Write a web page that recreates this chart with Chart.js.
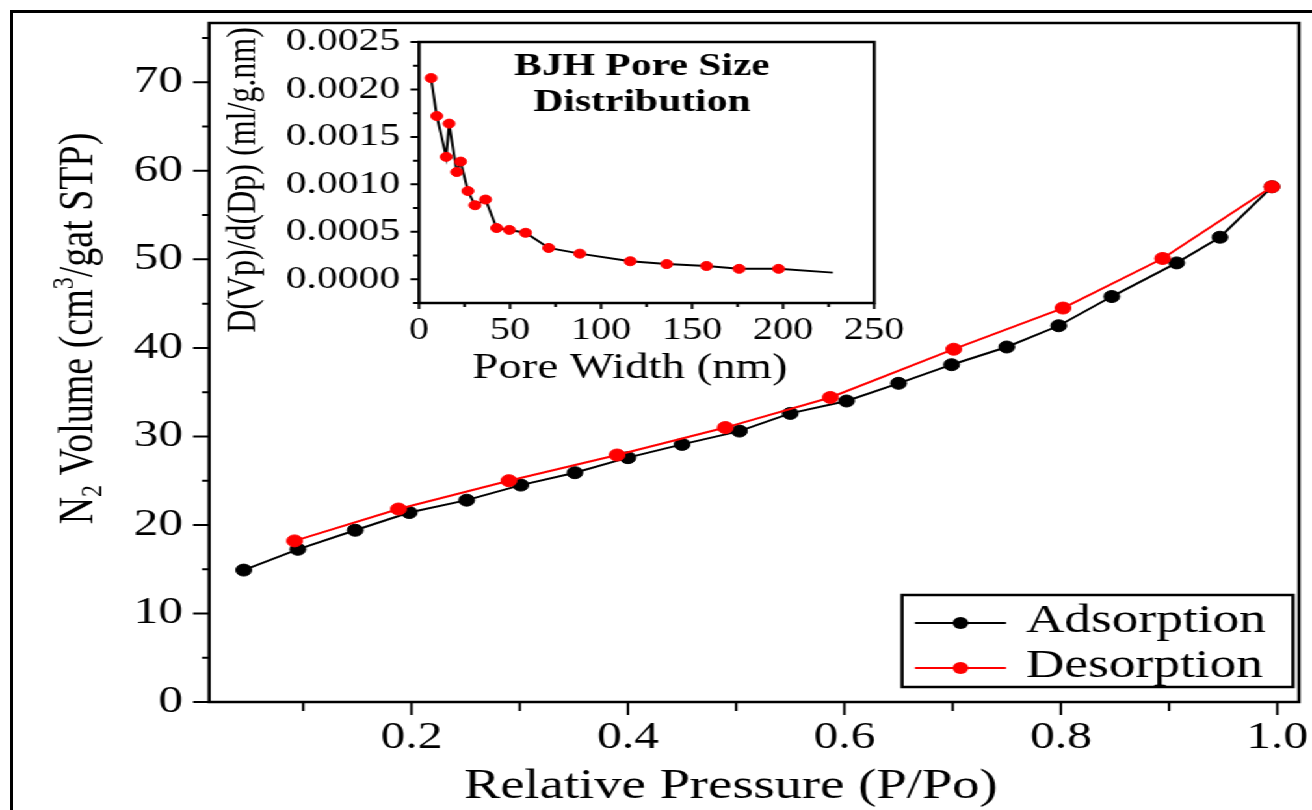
<!DOCTYPE html>
<html>
<head>
<meta charset="utf-8">
<title>N2 isotherm with BJH inset</title>
<script src="https://cdn.jsdelivr.net/npm/chart.js@4.4.1/dist/chart.umd.min.js"></script>
<style>
  html, body { margin: 0; padding: 0; background: #fff; width: 1312px; height: 810px; overflow: hidden; }
  #frame { position: absolute; left: 10px; top: 10px; width: 1400px; height: 900px;
           border-left: 3px solid #000; border-top: 3px solid #000; }
  /* the original figure is stretched sideways, so the whole drawing is too */
  #stage { position: absolute; left: 0; top: 0; width: 1009px; height: 810px;
           transform: scaleX(1.3003); transform-origin: 0 0; }
  #main { position: absolute; left: 0; top: 0; }
  #inset { position: absolute; left: 162px; top: 24px; }
</style>
</head>
<body>
<div id="frame"></div>
<div id="stage">
  <canvas id="main" width="1009" height="810"></canvas>
  <canvas id="inset" width="545" height="370"></canvas>
</div>
<script>
const FONT = '"Liberation Serif", "Times New Roman", Times, serif';

// N2 isotherm (main plot)
const adsorptionP = [0.045, 0.095, 0.148, 0.198, 0.251, 0.301, 0.351, 0.400, 0.450, 0.503,
                     0.550, 0.602, 0.650, 0.699, 0.750, 0.798, 0.847, 0.907, 0.947, 0.995];
const adsorptionV = [14.9, 17.25, 19.4, 21.4, 22.8, 24.5, 25.9, 27.6, 29.1, 30.6,
                     32.6, 34.0, 36.0, 38.1, 40.1, 42.5, 45.8, 49.6, 52.5, 58.2];
const desorptionP = [0.995, 0.894, 0.802, 0.701, 0.587, 0.490, 0.390, 0.290, 0.188, 0.092];
const desorptionV = [58.2, 50.1, 44.5, 39.85, 34.4, 31.0, 27.9, 25.0, 21.8, 18.2];

// BJH pore size distribution (inset)
const poreWidth = [6.6, 9.7, 14.9, 16.5, 20.7, 22.8, 26.8, 30.7, 36.5, 42.6,
                   49.6, 58.5, 71.2, 88.3, 116.0, 136.0, 157.9, 175.8, 197.5, 227.3];
const poreDist = [0.00212, 0.00172, 0.00129, 0.00164, 0.00113, 0.00124, 0.00093, 0.00078, 0.00084, 0.00054,
                  0.00052, 0.00049, 0.00033, 0.00027, 0.00019, 0.00016, 0.00014, 0.00011, 0.00011, 0.00007];

// texts
const seriesNames = ['Adsorption', 'Desorption'];
const xTitle = 'Relative Pressure (P/Po)';
const yTitleParts = [{ t: 'N' }, { t: '2', sub: true }, { t: ' Volume (cm' }, { t: '3', sup: true }, { t: '/gat STP)' }];
const insetTitle = ['BJH Pore Size', 'Distribution'];
const insetXTitle = 'Pore Width (nm)';
const insetYTitle = 'D(Vp)/d(Dp) (ml/g.nm)';

function onStep(v, step) {
  const r = v / step;
  return Math.abs(r - Math.round(r)) < 1e-6;
}
function toPoints(xs, ys) {
  return xs.map((x, i) => ({ x: x, y: ys[i] }));
}

// outward tick marks (long for labelled ticks, short for the rest) and the box frame
function axesPlugin(len) {
  return {
    id: 'axesFrame',
    afterDraw(chart) {
      const ctx = chart.ctx;
      const a = chart.chartArea;
      const x = chart.scales.x, y = chart.scales.y;
      ctx.save();
      ctx.strokeStyle = '#000';
      ctx.lineWidth = 2;
      ctx.beginPath();
      x.ticks.forEach(t => {
        const px = x.getPixelForValue(t.value);
        ctx.moveTo(px, a.bottom);
        ctx.lineTo(px, a.bottom + (t.label ? len.xMajor : len.xMinor));
      });
      y.ticks.forEach(t => {
        const py = y.getPixelForValue(t.value);
        ctx.moveTo(a.left, py);
        ctx.lineTo(a.left - (t.label ? len.yMajor : len.yMinor), py);
      });
      ctx.stroke();
      ctx.lineWidth = len.frame;
      ctx.strokeRect(a.left, a.top, a.right - a.left, a.bottom - a.top);
      ctx.restore();
    }
  };
}

// free text (axis titles etc), with simple sub/superscript parts
function textPlugin(items) {
  return {
    id: 'freeText',
    afterDraw(chart) {
      const ctx = chart.ctx;
      items.forEach(it => {
        const parts = it.parts || [{ t: it.text }];
        const fontFor = p => (it.bold ? 'bold ' : '') +
          (p.sub || p.sup ? Math.round(it.size * 0.62) : it.size) + 'px ' + FONT;
        ctx.save();
        ctx.translate(it.x, it.y);
        if (it.rotate) ctx.rotate(it.rotate);
        ctx.fillStyle = '#000';
        ctx.textAlign = 'left';
        ctx.textBaseline = 'alphabetic';
        let total = 0;
        parts.forEach(p => { ctx.font = fontFor(p); total += ctx.measureText(p.t).width; });
        let cx = -total / 2;
        parts.forEach(p => {
          ctx.font = fontFor(p);
          const dy = p.sub ? it.size * 0.2 : (p.sup ? -it.size * 0.38 : 0);
          ctx.fillText(p.t, cx, dy);
          cx += ctx.measureText(p.t).width;
        });
        ctx.restore();
      });
    }
  };
}

// boxed legend with line + marker samples
function legendPlugin(box) {
  return {
    id: 'boxLegend',
    afterDraw(chart) {
      const ctx = chart.ctx;
      ctx.save();
      ctx.fillStyle = '#fff';
      ctx.fillRect(box.left, box.top, box.right - box.left, box.bottom - box.top);
      ctx.strokeStyle = '#000';
      ctx.lineWidth = 2.5;
      ctx.strokeRect(box.left, box.top, box.right - box.left, box.bottom - box.top);
      chart.data.datasets.forEach((ds, i) => {
        const yy = box.rows[i];
        ctx.strokeStyle = ds.borderColor;
        ctx.lineWidth = 2;
        ctx.beginPath();
        ctx.moveTo(box.lineFrom, yy);
        ctx.lineTo(box.lineTo, yy);
        ctx.stroke();
        ctx.fillStyle = ds.borderColor;
        ctx.beginPath();
        ctx.arc((box.lineFrom + box.lineTo) / 2, yy, box.r, 0, Math.PI * 2);
        ctx.fill();
        ctx.fillStyle = '#000';
        ctx.font = box.size + 'px ' + FONT;
        ctx.textAlign = 'left';
        ctx.textBaseline = 'alphabetic';
        ctx.fillText(ds.label, box.textX, yy + box.dy);
      });
      ctx.restore();
    }
  };
}

function fixScale(w, h) {
  return s => {
    if (w != null) s.width = w;
    if (h != null) s.height = h;
    s.paddingTop = 0; s.paddingBottom = 0; s.paddingLeft = 0; s.paddingRight = 0;
  };
}

// main chart
new Chart(document.getElementById('main'), {
  type: 'scatter',
  data: {
    datasets: [
      {
        label: seriesNames[0],
        data: toPoints(adsorptionP, adsorptionV),
        showLine: true,
        borderColor: '#000000',
        backgroundColor: '#000000',
        borderWidth: 2,
        pointRadius: 6,
        pointBorderWidth: 1,
        pointHoverRadius: 6,
        order: 2
      },
      {
        label: seriesNames[1],
        data: toPoints(desorptionP, desorptionV),
        showLine: true,
        borderColor: '#ff0000',
        backgroundColor: '#ff0000',
        borderWidth: 2,
        pointRadius: 6,
        pointBorderWidth: 1,
        pointHoverRadius: 6,
        order: 1
      }
    ]
  },
  options: {
    responsive: false,
    animation: false,
    layout: { padding: { left: 0, top: 23, right: 10, bottom: 0 } },
    plugins: { legend: { display: false }, tooltip: { enabled: false } },
    scales: {
      x: {
        type: 'linear',
        min: 0.013,
        max: 1.02,
        afterFit: fixScale(null, 108),
        grid: { display: false, drawTicks: false },
        border: { display: false },
        ticks: {
          stepSize: 0.1,
          includeBounds: false,
          autoSkip: false,
          maxRotation: 0,
          padding: 13,
          color: '#000',
          font: { family: FONT, size: 38 },
          callback: v => onStep(v, 0.2) ? v.toFixed(1) : ''
        }
      },
      y: {
        type: 'linear',
        min: 0,
        max: 76.7,
        afterFit: fixScale(160.8, null),
        grid: { display: false, drawTicks: false },
        border: { display: false },
        ticks: {
          stepSize: 5,
          includeBounds: false,
          autoSkip: false,
          padding: 20,
          color: '#000',
          font: { family: FONT, size: 38 },
          callback: v => onStep(v, 10) ? String(Math.round(v)) : ''
        }
      }
    }
  },
  plugins: [
    axesPlugin({ xMajor: 13, xMinor: 9, yMajor: 12.3, yMinor: 5.4, frame: 2.5 }),
    textPlugin([
      { text: xTitle, x: 562, y: 798, size: 42 },
      { parts: yTitleParts, x: 70.8, y: 328.5, size: 38, rotate: -Math.PI / 2 }
    ]),
    legendPlugin({ left: 693.7, top: 595, right: 994.4, bottom: 687, rows: [623, 668],
                   lineFrom: 703.7, lineTo: 773.7, r: 6, textX: 789, dy: 9, size: 41 })
  ]
});

// inset chart
const lastPore = poreWidth.length - 1;
new Chart(document.getElementById('inset'), {
  type: 'scatter',
  data: {
    datasets: [{
      label: 'BJH',
      data: toPoints(poreWidth, poreDist),
      showLine: true,
      borderColor: '#000000',
      borderWidth: 2,
      pointBackgroundColor: '#ff0000',
      pointBorderColor: '#ff0000',
      pointBorderWidth: 1,
      pointRadius: ctx => ctx.dataIndex === lastPore ? 0 : 4.5,
      pointHoverRadius: ctx => ctx.dataIndex === lastPore ? 0 : 4.5
    }]
  },
  options: {
    responsive: false,
    animation: false,
    layout: { padding: { left: 0, top: 18, right: 34.7, bottom: 0 } },
    plugins: { legend: { display: false }, tooltip: { enabled: false } },
    scales: {
      x: {
        type: 'linear',
        min: 0,
        max: 250,
        afterFit: fixScale(null, 91),
        grid: { display: false, drawTicks: false },
        border: { display: false },
        ticks: {
          stepSize: 25,
          autoSkip: false,
          maxRotation: 0,
          padding: 9,
          color: '#000',
          font: { family: FONT, size: 31 },
          callback: v => onStep(v, 50) ? String(Math.round(v)) : ''
        }
      },
      y: {
        type: 'linear',
        min: -0.00025,
        max: 0.0025,
        afterFit: fixScale(160.3, null),
        grid: { display: false, drawTicks: false },
        border: { display: false },
        ticks: {
          stepSize: 0.00025,
          autoSkip: false,
          padding: 14.6,
          color: '#000',
          font: { family: FONT, size: 32 },
          callback: v => onStep(v, 0.0005) ? Math.abs(v).toFixed(4) : ''
        }
      }
    }
  },
  plugins: [
    axesPlugin({ xMajor: 6, xMinor: 4, yMajor: 6.7, yMinor: 4.6, frame: 2.5 }),
    textPlugin([
      { text: insetTitle[0], x: 331.7, y: 51, size: 32, bold: true },
      { text: insetTitle[1], x: 331.7, y: 86.7, size: 32, bold: true },
      { text: insetXTitle, x: 322.5, y: 354, size: 36 },
      { text: insetYTitle, x: 34.1, y: 156, size: 32, rotate: -Math.PI / 2 }
    ])
  ]
});
</script>
</body>
</html>
